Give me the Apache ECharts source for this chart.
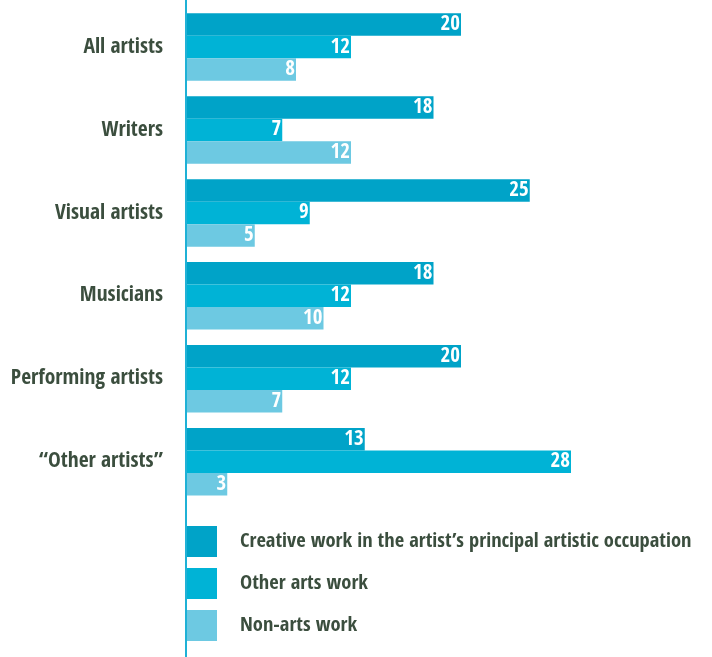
<!DOCTYPE html>
<html>
<head>
<meta charset="utf-8">
<script src="https://cdn.jsdelivr.net/npm/echarts@6/dist/echarts.min.js"></script>
<style>
  html, body { margin: 0; padding: 0; background: #fff; }
  #chart { width: 712px; height: 657px; }
</style>
</head>
<body>
<div id="chart"></div>
<script>
// Share of time spent on each kind of work, by artist group
const categories = ['All artists', 'Writers', 'Visual artists', 'Musicians', 'Performing artists', '\u201cOther artists\u201d'];
const seriesNames = [
  'Creative work in the artist\u2019s principal artistic occupation',
  'Other arts work',
  'Non-arts work'
];
const creativeWork = [20, 18, 25, 18, 20, 13];
const otherArtsWork = [12, 7, 9, 12, 12, 28];
const nonArtsWork = [8, 12, 5, 10, 7, 3];

const colors = ['#00a3c8', '#00b3d6', '#6dc9e2'];
const textColor = '#3b4e3e';
const fontFamily = '"Open Sans Condensed", "Roboto Condensed", "DejaVu Sans Condensed", sans-serif';

const chart = echarts.init(document.getElementById('chart'), null, { renderer: 'canvas' });

function barSeries(name, values, color) {
  return {
    name: name,
    type: 'bar',
    data: values,
    barWidth: 22.5,
    barGap: '0%',
    itemStyle: { color: color },
    emphasis: { disabled: true },
    label: {
      show: true,
      position: 'insideRight',
      distance: 1,
      color: '#ffffff',
      fontFamily: fontFamily,
      fontWeight: 'bold',
      fontSize: 21
    }
  };
}

chart.setOption({
  animation: false,
  color: colors,
  grid: { left: 186, top: 5.6, width: 412.5, height: 497.6, outerBoundsMode: 'none' },
  xAxis: {
    type: 'value',
    min: 0,
    max: 30,
    show: false
  },
  yAxis: {
    type: 'category',
    data: categories,
    inverse: true,
    axisLine: { show: false },
    axisTick: { show: false },
    axisLabel: {
      margin: 23,
      color: textColor,
      fontFamily: fontFamily,
      fontWeight: 'bold',
      fontSize: 21.5
    }
  },
  legend: {
    orient: 'vertical',
    left: 186,
    top: 526,
    padding: 0,
    itemWidth: 31,
    itemHeight: 31,
    itemGap: 11,
    icon: 'rect',
    selectedMode: false,
    data: seriesNames,
    textStyle: {
      color: textColor,
      fontFamily: fontFamily,
      fontWeight: 'bold',
      fontSize: 20.5,
      padding: [4, 0, 0, 18]
    }
  },
  graphic: [{
    type: 'line',
    z: 10,
    shape: { x1: 186, y1: 0, x2: 186, y2: 657 },
    style: { stroke: '#1fb1d6', lineWidth: 2 }
  }],
  series: [
    barSeries(seriesNames[0], creativeWork, colors[0]),
    barSeries(seriesNames[1], otherArtsWork, colors[1]),
    barSeries(seriesNames[2], nonArtsWork, colors[2])
  ]
});
</script>
</body>
</html>
